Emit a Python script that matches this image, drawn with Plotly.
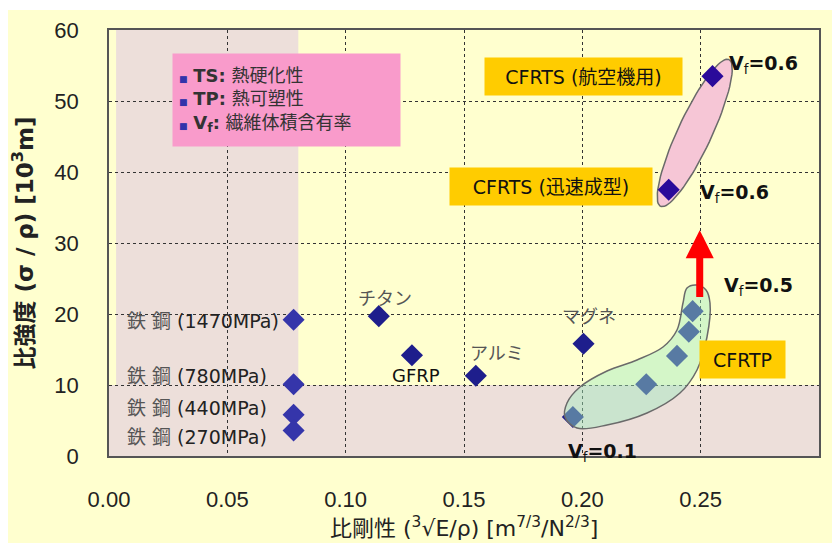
import numpy as np
import plotly.graph_objects as go

# ---------------- data ----------------
steel_x = [0.078, 0.078, 0.078, 0.078]
steel_y = [19.2, 10.1, 5.8, 3.6]
steel_labels = ["(1470MPa)", "(780MPa)", "(440MPa)", "(270MPa)"]

mat_names = ["チタン", "GFRP", "アルミ", "マグネ"]
mat_x = [0.114, 0.128, 0.155, 0.2005]
mat_y = [19.7, 14.2, 11.3, 15.8]

cfrtp_x = [0.196, 0.227, 0.240, 0.245, 0.2466]
cfrtp_y = [5.5, 10.1, 14.1, 17.5, 20.4]

cfrts_x = [0.2365, 0.255]
cfrts_y = [37.5, 53.5]

x_ticks = [0.00, 0.05, 0.10, 0.15, 0.20, 0.25, 0.30]
x_tick_text = ["0.00", "0.05", "0.10", "0.15", "0.20", "0.25", "0.30"]
y_ticks = [0, 10, 20, 30, 40, 50, 60]

BG = "#FFFFCF"
BAND = "#EDDFDA"
MK = "#1e1e8c"
MK_LIGHT = "#3535aa"
FONT = "DejaVu Sans, Noto Sans CJK JP, sans-serif"
TICKFONT = "Liberation Sans Narrow, Liberation Sans, sans-serif"

# pixel -> data scale (plot area 710 x 426 px)
SX = 0.30 / 710
SY = 60 / 426

fig = go.Figure()

# markers
fig.add_trace(go.Scatter(x=steel_x, y=steel_y, mode="markers",
                         marker=dict(symbol="diamond", size=17, color=MK_LIGHT),
                         showlegend=False, hoverinfo="skip"))
fig.add_trace(go.Scatter(x=mat_x, y=mat_y, mode="markers",
                         marker=dict(symbol="diamond", size=17, color=MK),
                         showlegend=False, hoverinfo="skip"))
fig.add_trace(go.Scatter(x=cfrtp_x, y=cfrtp_y, mode="markers",
                         marker=dict(symbol="diamond", size=17, color=MK),
                         showlegend=False, hoverinfo="skip"))

# pink ellipse around CFRTS (drawn under its markers)
t = np.linspace(0, 2 * np.pi, 80)
cx, cy = 0.2475, 45.5
a_px, b_px, ang = 81, 17, np.deg2rad(65)
ex = a_px * np.cos(t) * np.cos(ang) - b_px * np.sin(t) * np.sin(ang)
ey = a_px * np.cos(t) * np.sin(ang) + b_px * np.sin(t) * np.cos(ang)
fig.add_trace(go.Scatter(x=cx + ex * SX, y=cy + ey * SY, mode="lines",
                         fill="toself", fillcolor="#F6C6D6",
                         line=dict(color="#6a6a6a", width=1.5),
                         showlegend=False, hoverinfo="skip"))
fig.add_trace(go.Scatter(x=cfrts_x, y=cfrts_y, mode="markers",
                         marker=dict(symbol="diamond", size=17, color="#2a0a9a"),
                         showlegend=False, hoverinfo="skip"))

# green blob around CFRTP (semi-transparent, drawn over markers)
blob_px = [(565, 417), (577, 428), (607, 425), (647, 413), (680, 393), (697, 370),
           (707, 337), (710, 303), (706, 290), (697, 285), (687, 288), (683, 303),
           (677, 330), (663, 347), (637, 360), (607, 371), (580, 387), (567, 403),
           (565, 417)]
bx = [(p[0] - 109) * SX for p in blob_px]
by = [(456 - p[1]) * SY for p in blob_px]
fig.add_trace(go.Scatter(x=bx, y=by, mode="lines", line_shape="spline",
                         fill="toself", fillcolor="rgba(160,235,190,0.45)",
                         line=dict(color="#6a6a6a", width=1.5),
                         showlegend=False, hoverinfo="skip"))

# background bands + white page margins
shapes = [
    dict(type="rect", xref="x", yref="y", x0=0.003, x1=0.08, y0=0, y1=60,
         fillcolor=BAND, line_width=0, layer="below"),
    dict(type="rect", xref="x", yref="y", x0=0, x1=0.30, y0=0, y1=10,
         fillcolor=BAND, line_width=0, layer="below"),
    dict(type="rect", xref="paper", yref="paper", x0=-0.3, x1=1.2,
         y0=(456 - 10) / 426, y1=1.3, fillcolor="white", line_width=0, layer="above"),
    dict(type="rect", xref="paper", yref="paper", x0=-0.3, x1=(7 - 109) / 710,
         y0=(456 - 97) / 426, y1=1.3, fillcolor="white", line_width=0, layer="above"),
    dict(type="rect", xref="paper", yref="paper", x0=-0.3, x1=(7 - 109) / 710,
         y0=-0.3, y1=(456 - 380) / 426, fillcolor="white", line_width=0, layer="above"),
]

ann = []
# red arrow
ann.append(dict(x=0.2496, y=31.8, ax=0.2496, ay=22.2, xref="x", yref="y",
                axref="x", ayref="y", showarrow=True, arrowhead=2,
                arrowsize=0.8, arrowwidth=7, arrowcolor="#FF0000", text=""))

# steel labels
steel_label_y = [19.0, 11.3, 6.75, 2.7]
for ly, lab in zip(steel_label_y, steel_labels):
    ann.append(dict(x=0.0068, y=ly, xref="x", yref="y",
                    xanchor="left", yanchor="middle", showarrow=False,
                    text=f"<span style='color:#555'>鉄 鋼</span> {lab}",
                    font=dict(size=19, color="#222", family=FONT)))

# material labels
mat_label_pos = [(0.1166, 22.25, "#555", 18), (0.1297, 11.4, "#111", 18),
                 (0.164, 14.5, "#555", 18), (0.2028, 19.6, "#555", 18)]
for name, (lx, ly, col, fs) in zip(mat_names, mat_label_pos):
    ann.append(dict(x=lx, y=ly, xref="x", yref="y", showarrow=False, text=name,
                    font=dict(size=fs, color=col, family=FONT)))

# Vf labels
for (lx, ly, txt) in [(0.2611, 55.2, "0.6"), (0.2487, 37.0, "0.6"),
                      (0.259, 23.9, "0.5"), (0.1931, 0.56, "0.1")]:
    ann.append(dict(x=lx, y=ly, xref="x", yref="y", xanchor="left", yanchor="middle",
                    showarrow=False, text="<b>V</b><sub>f</sub><b>=" + txt + "</b>",
                    font=dict(size=19, color="#111", family=FONT)))

# orange labels
for (lx, ly, txt, w) in [(0.2005, 53.45, "CFRTS (航空機用)", 185),
                         (0.1868, 38.0, "CFRTS (迅速成型)", 190),
                         (0.2677, 13.6, "CFRTP", 73)]:
    ann.append(dict(x=lx, y=ly, xref="x", yref="y", showarrow=False, text=txt,
                    bgcolor="#FFCC00", borderpad=6, width=w, height=25,
                    font=dict(size=19, color="#111", family=FONT)))

# legend box
bul = "<span style='color:#3333aa;font-size:9px'>■</span>"
leg_txt = (f"{bul} <b>TS:</b> 熱硬化性<br>{bul} <b>TP:</b> 熱可塑性<br>"
           f"{bul} <b>V<sub>f</sub>:</b> 繊維体積含有率")
ann.append(dict(x=0.0266, y=56.76, xref="x", yref="y", xanchor="left", yanchor="top",
                showarrow=False, text=leg_txt, align="left", bgcolor="#F99BCB",
                width=215, height=80, borderpad=6,
                font=dict(size=18, color="#333", family=FONT)))

# x-axis title
ann.append(dict(x=0.5, y=-0.167, xref="paper", yref="paper", showarrow=False,
                yanchor="middle",
                text="比剛性 (<sup>3</sup>√E/ρ) [m<sup>7/3</sup>/N<sup>2/3</sup>]",
                font=dict(size=22, color="#222", family=FONT)))

fig.update_layout(
    width=832, height=535,
    margin=dict(l=101, r=21, t=22, b=87),
    paper_bgcolor=BG, plot_bgcolor=BG,
    font=dict(family=FONT, color="#222"),
    shapes=shapes, annotations=ann, showlegend=False,
)
fig.update_xaxes(range=[0, 0.30], tickvals=x_ticks, ticktext=x_tick_text,
                 showgrid=True, gridcolor="#333", griddash="dot", gridwidth=1,
                 showline=True, linecolor="#555", linewidth=1.5, mirror=True,
                 zeroline=False, ticks="", ticklabelstandoff=23, automargin=False,
                 tickfont=dict(size=22, color="#222", family=TICKFONT))
fig.update_yaxes(range=[0, 60], tickvals=y_ticks,
                 showgrid=True, gridcolor="#333", griddash="dot", gridwidth=1,
                 showline=True, linecolor="#555", linewidth=1.5, mirror=True,
                 zeroline=False, ticks="", ticklabelstandoff=24, automargin=False,
                 tickfont=dict(size=22, color="#222", family=TICKFONT),
                 title=dict(text="<b>比強度 (σ / ρ) [10<sup>3</sup>m]</b>", standoff=18,
                            font=dict(size=23, color="#222", family=FONT)))

fig.write_html("out.html")
